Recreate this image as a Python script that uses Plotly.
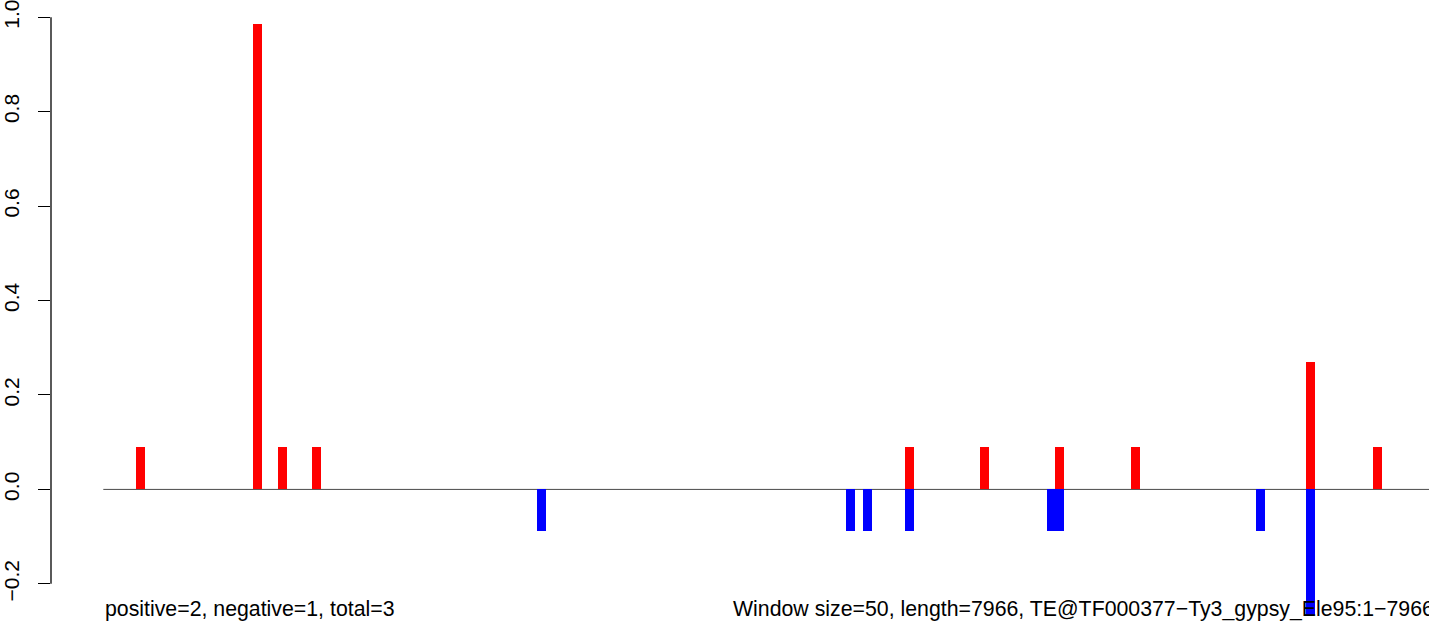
import plotly.graph_objects as go

# ---- data ----
WINDOW = 50
LENGTH = 7966
pos_windows = [5, 19, 22, 26, 97, 106, 115, 124, 145, 153]
pos_values = [0.089, 0.986, 0.089, 0.089, 0.089, 0.089, 0.089, 0.089, 0.2695, 0.089]
neg_windows = [53, 90, 92, 97, 114, 115, 139, 145]
neg_values = [-0.089, -0.089, -0.089, -0.089, -0.089, -0.089, -0.089, -0.266]
ytick_vals = [-0.2, 0.0, 0.2, 0.4, 0.6, 0.8, 1.0]
ytick_text = ["\u22120.2", "0.0", "0.2", "0.4", "0.6", "0.8", "1.0"]
left_label = "positive=2, negative=1, total=3"
right_label = "Window size=50, length=7966, TE@TF000377\u2212Ty3_gypsy_Ele95:1\u22127966"

# ---- geometry ----
W, H = 1429, 628
ML = 51
px_per_bp = 0.16708
x0_px = 103.3
plot_w = W - ML
x_lo = -(x0_px - ML) / px_per_bp
x_hi = (W - x0_px) / px_per_bp
zero_px = 488.3
px_per_unit = 476.0
y_hi = zero_px / px_per_unit
y_lo = -(H - zero_px) / px_per_unit

pos_x = [WINDOW * w - WINDOW / 2 for w in pos_windows]
neg_x = [WINDOW * w - WINDOW / 2 for w in neg_windows]
bar_w = 54

FONT = "Liberation Sans, Arial, Helvetica, sans-serif"
FS = 21
FS_TXT = 21.3

fig = go.Figure()
fig.add_trace(go.Bar(x=pos_x, y=pos_values, width=bar_w,
                     marker=dict(color="#FF0000", line=dict(width=0)), showlegend=False))
fig.add_trace(go.Bar(x=neg_x, y=neg_values, width=bar_w,
                     marker=dict(color="#0000FF", line=dict(width=0)), showlegend=False))

# baseline at zero
fig.add_shape(type="line", xref="x", yref="y", x0=0, x1=LENGTH, y0=0, y1=0,
              line=dict(color="#4a4a4a", width=1), layer="below")
# R-style y axis line spanning only the tick range
fig.add_shape(type="line", xref="paper", yref="y", x0=0, x1=0, y0=-0.2, y1=1.0,
              line=dict(color="black", width=1.3))

text_y = 1 - 608.5 / H
fig.add_annotation(x=0, xref="x", y=text_y, yref="paper", text=left_label,
                   showarrow=False, xanchor="left", yanchor="middle",
                   font=dict(family=FONT, size=FS_TXT, color="black"))
fig.add_annotation(x=(731 - x0_px) / px_per_bp, xref="x", y=text_y, yref="paper",
                   text=right_label, showarrow=False, xanchor="left", yanchor="middle",
                   font=dict(family=FONT, size=FS_TXT, color="black"))

fig.update_layout(
    width=W, height=H,
    margin=dict(l=ML, r=0, t=0, b=0),
    plot_bgcolor="white", paper_bgcolor="white",
    barmode="overlay", bargap=0,
    xaxis=dict(range=[x_lo, x_hi], visible=False, showgrid=False, zeroline=False),
    yaxis=dict(range=[y_lo, y_hi], showgrid=False, zeroline=False, showline=False,
               tickmode="array", tickvals=ytick_vals, ticktext=ytick_text,
               ticks="outside", ticklen=12, tickwidth=1.3, tickcolor="black",
               tickangle=-90, tickfont=dict(family=FONT, size=FS, color="black"),
               ticklabelstandoff=11, ticklabeloverflow="allow"),
    font=dict(family=FONT),
)

fig.write_html("out.html", config={"displayModeBar": False},
               post_script="document.body.style.margin='0';document.body.style.overflow='hidden';")
